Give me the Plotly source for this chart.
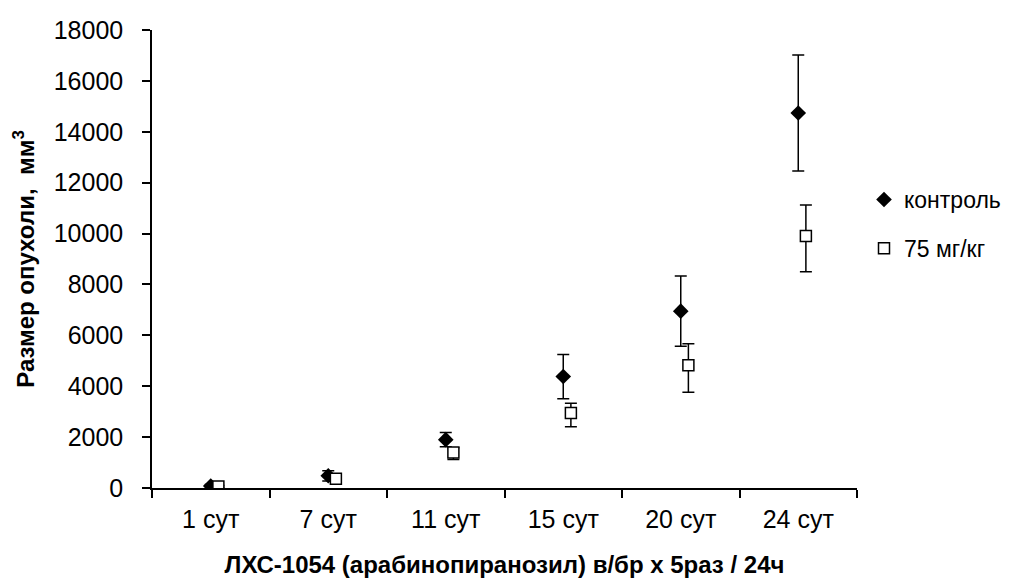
import plotly.graph_objects as go
import numpy as np

categories = ["1 сут", "7 сут", "11 сут", "15 сут", "20 сут", "24 сут"]
control_vals = [80, 480, 1900, 4380, 6950, 14740]
control_err = [60, 200, 280, 870, 1380, 2280]
dose_vals = [60, 360, 1400, 2950, 4820, 9900]
dose_err_plus = [40, 100, 180, 380, 850, 1220]
dose_err_minus = [40, 100, 280, 540, 1060, 1400]
y_ticks = [0, 2000, 4000, 6000, 8000, 10000, 12000, 14000, 16000, 18000]

FONT = "Arial, Liberation Sans, sans-serif"
DODGE = 0.065

idx = np.arange(len(categories))

fig = go.Figure()
fig.add_trace(go.Scatter(
    x=idx, y=control_vals, mode="markers", name="контроль",
    legendgroup="a",
    marker=dict(symbol="diamond", size=12, color="black"),
    error_y=dict(type="data", array=control_err, visible=True,
                 color="black", thickness=1.5, width=6),
))
fig.add_trace(go.Scatter(
    x=idx + DODGE, y=dose_vals, mode="markers", name="75 мг/кг",
    legendgroup="b",
    marker=dict(symbol="square", size=11, color="white",
                line=dict(color="black", width=1.5)),
    error_y=dict(type="data", array=dose_err_plus, arrayminus=dose_err_minus,
                 symmetric=False, visible=True,
                 color="black", thickness=1.5, width=6),
))

fig.update_layout(
    width=1019, height=579,
    margin=dict(l=144, r=170, t=22, b=99),
    plot_bgcolor="white", paper_bgcolor="white",
    font=dict(family=FONT, size=25, color="black"),
    showlegend=True,
    legend=dict(xref="container", yref="container",
                x=856 / 1019, y=1 - 170 / 579, xanchor="left", yanchor="top",
                tracegroupgap=16, traceorder="grouped",
                font=dict(size=23), itemwidth=30,
                bgcolor="rgba(0,0,0,0)"),
    xaxis=dict(
        range=[-0.5, len(categories) - 0.5],
        tickmode="array", tickvals=idx, ticktext=categories,
        ticks="", showline=True, linecolor="black", linewidth=1.5,
        showgrid=False, zeroline=False, automargin=False,
        ticklabelstandoff=8,
        minor=dict(ticks="outside", tick0=-0.5, dtick=1, ticklen=8,
                   tickcolor="black", tickwidth=1.5, showgrid=False),
        title=dict(text="<b>ЛХС-1054 (арабинопиранозил) в/бр х 5раз / 24ч</b>",
                   font=dict(size=24), standoff=24),
        tickfont=dict(size=25),
    ),
    yaxis=dict(
        range=[0, 18000], tickmode="array", tickvals=y_ticks,
        tickformat="d",
        ticks="outside", ticklen=8, tickcolor="black", tickwidth=1.5,
        showline=True, linecolor="black", linewidth=1.5,
        showgrid=False, zeroline=False, automargin=False,
        ticklabelstandoff=14,
        title=dict(text="<b>Размер опухоли,  мм<sup>3</sup></b>",
                   font=dict(size=24), standoff=12),
        tickfont=dict(size=25),
    ),
)

fig.write_html("out.html")
